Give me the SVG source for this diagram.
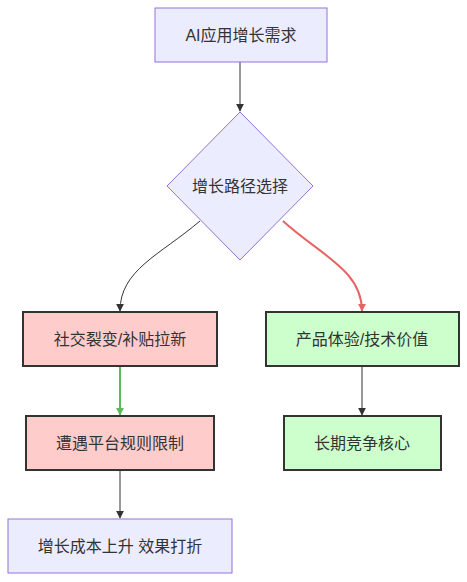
<svg xmlns="http://www.w3.org/2000/svg" width="467" height="582" viewBox="0 0 467 582">
<style>
.t{font-family:"Liberation Sans","Noto Sans CJK SC",sans-serif;font-size:16px;fill:#333;text-anchor:middle;dominant-baseline:central}
.p{fill:#ECECFF;stroke:#9370DB;stroke-width:1}
.r{fill:#FFCCCC;stroke:#333;stroke-width:2}
.g{fill:#CCFFCC;stroke:#333;stroke-width:2}
.e{fill:none;stroke:#333;stroke-width:1}
</style>
<defs>
<marker id="a" viewBox="0 0 10 10" refX="9" refY="5" markerWidth="8" markerHeight="8" markerUnits="userSpaceOnUse" orient="auto"><path d="M0,0L10,5L0,10z" fill="#333"/></marker>
<marker id="ar" viewBox="0 0 10 10" refX="9" refY="5" markerWidth="8" markerHeight="8" markerUnits="userSpaceOnUse" orient="auto"><path d="M0,0L10,5L0,10z" fill="#E86464"/></marker>
<marker id="ag" viewBox="0 0 10 10" refX="9" refY="5" markerWidth="8" markerHeight="8" markerUnits="userSpaceOnUse" orient="auto"><path d="M0,0L10,5L0,10z" fill="#5CB85C"/></marker>
</defs>
<g id="edges">
<path class="e" d="M240,62L240,111" marker-end="url(#a)"/>
<path class="e" d="M200,221C160,255 120,270 120,311" marker-end="url(#a)"/>
<path d="M283,221C320,255 362,270 362,311" fill="none" stroke="#E86464" stroke-width="2" marker-end="url(#ar)"/>
<path d="M120,366L120,415" fill="none" stroke="#5CB85C" stroke-width="2" marker-end="url(#ag)"/>
<path class="e" d="M362,366L362,415" marker-end="url(#a)"/>
<path class="e" d="M120,470L120,518" marker-end="url(#a)"/>
</g>
<g id="A"><rect class="p" x="155" y="8" width="172" height="54"/><text class="t" x="241" y="35">AI应用增长需求</text></g>
<g id="B"><path class="p" d="M240,112L313,186L240,260L167,186z"/><text class="t" x="240" y="186">增长路径选择</text></g>
<g id="C"><rect class="r" x="23" y="312" width="194" height="54"/><text class="t" x="120" y="339">社交裂变/补贴拉新</text></g>
<g id="D"><rect class="g" x="266" y="312" width="193" height="54"/><text class="t" x="362" y="339">产品体验/技术价值</text></g>
<g id="E"><rect class="r" x="26" y="416" width="188" height="54"/><text class="t" x="120" y="443">遭遇平台规则限制</text></g>
<g id="F"><rect class="g" x="284" y="416" width="157" height="54"/><text class="t" x="362" y="443">长期竞争核心</text></g>
<g id="G"><rect class="p" x="8" y="519" width="224" height="54"/><text class="t" x="120" y="546">增长成本上升 效果打折</text></g>
</svg>
